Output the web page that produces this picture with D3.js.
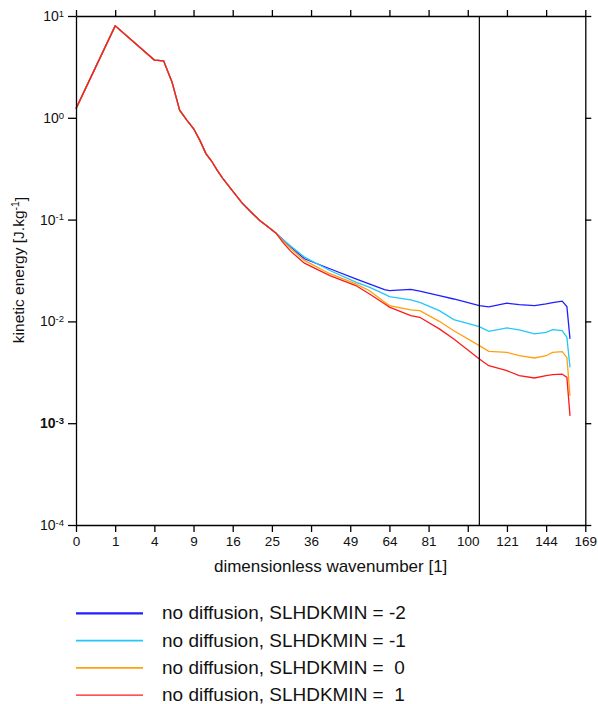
<!DOCTYPE html>
<html>
<head>
<meta charset="utf-8">
<script src="https://cdn.jsdelivr.net/npm/d3@7"></script>
<style>
  body { margin: 0; background: #fff; }
  svg text { font-family: "Liberation Sans", Arial, sans-serif; fill: #111; }
</style>
</head>
<body>
<div id="chart"></div>
<script>
// wavenumbers sampled along the curves
var wavenumbers = [0, 1, 4, 5, 6, 7, 8, 9, 10, 11, 12, 13, 14, 16, 18, 20, 22, 24, 26, 28, 30,
  34, 42, 51, 56, 62, 64, 73, 77, 86, 93, 106, 111, 121, 128, 137, 144, 148, 154, 157, 159];

// shared low-wavenumber part (k = 0 .. 26)
var common = [1.23, 8.0, 3.69, 3.63, 2.25, 1.19, 0.95, 0.785, 0.60, 0.445, 0.374, 0.305, 0.255,
  0.19, 0.145, 0.118, 0.098, 0.085, 0.074];

var energyM2 = common.concat([0.063, 0.054, 0.0412, 0.0329, 0.0262, 0.0234, 0.0205, 0.0201, 0.0206, 0.0198,
  0.0179, 0.0166, 0.01426, 0.0139, 0.0151, 0.0146, 0.0143, 0.0149, 0.0153, 0.0158, 0.0140, 0.00673]);
var energyM1 = common.concat([0.063, 0.055, 0.0428, 0.0316, 0.0243, 0.0217, 0.0185, 0.01755, 0.0163, 0.0154,
  0.01277, 0.0104, 0.0089, 0.0080, 0.00863, 0.00824, 0.00753, 0.0078, 0.0083, 0.0081, 0.00697, 0.00353]);
var energy0 = common.concat([0.061, 0.052, 0.0397, 0.0294, 0.0234, 0.0201, 0.0155, 0.0143, 0.0130, 0.01277,
  0.01002, 0.0081, 0.00578, 0.00508, 0.00497, 0.0046, 0.00437, 0.0046, 0.00497, 0.00504, 0.00443, 0.00186]);
var energyP1 = common.concat([0.059, 0.049, 0.0373, 0.0282, 0.0225, 0.0187, 0.0149, 0.0138, 0.0114, 0.01097,
  0.00844, 0.00673, 0.00428, 0.00367, 0.00328, 0.00293, 0.00278, 0.00293, 0.0030, 0.00304, 0.00282, 0.00118]);

var seriesNames = ["no diffusion, SLHDKMIN = -2", "no diffusion, SLHDKMIN = -1",
  "no diffusion, SLHDKMIN =  0", "no diffusion, SLHDKMIN =  1"];
var seriesValues = [energyM2, energyM1, energy0, energyP1];
var colors = ["#1f1fff", "#22c8f8", "#ffa010", "#ff1a1a"];
var legendWidths = [2.2, 1.6, 1.6, 1.2];

var xTicks = [0, 1, 4, 9, 16, 25, 36, 49, 64, 81, 100, 121, 144, 169];
var yTicks = [1e-4, 1e-3, 1e-2, 1e-1, 1, 10];
var truncation = 106;

var W = 598, H = 704;
var margin = {top: 16, right: 598 - 585.3, bottom: 704 - 525, left: 76};

var svg = d3.select("#chart").append("svg")
  .attr("width", W).attr("height", H);

var x = d3.scaleSqrt().domain([0, 169]).range([margin.left, W - margin.right]);
var y = d3.scaleLog().domain([1e-4, 10]).range([H - margin.bottom, margin.top]);

// lines
var line = d3.line()
  .x(function(d) { return x(d[0]); })
  .y(function(d) { return y(d[1]); });

seriesValues.forEach(function(vals, i) {
  svg.append("path")
    .datum(wavenumbers.map(function(k, j) { return [k, vals[j]]; }))
    .attr("d", line)
    .style("fill", "none")
    .style("stroke", colors[i])
    .style("stroke-width", 1.3);
});

// vertical truncation line
svg.append("line")
  .attr("x1", x(truncation)).attr("x2", x(truncation))
  .attr("y1", y(10)).attr("y2", y(1e-4))
  .style("stroke", "#000").style("stroke-width", 1.2);

// axes
function styleAxis(g) {
  g.selectAll("path, line").style("stroke", "#000").style("stroke-width", 1.3);
}

svg.append("g")
  .attr("transform", "translate(0," + (H - margin.bottom) + ")")
  .call(d3.axisBottom(x).tickValues(xTicks).tickSize(7).tickSizeOuter(0).tickPadding(4))
  .call(styleAxis)
  .selectAll("text").style("font-size", "13.5px");

svg.append("g")
  .attr("transform", "translate(0," + margin.top + ")")
  .call(d3.axisTop(x).tickValues(xTicks).tickSize(6).tickSizeOuter(0).tickFormat(""))
  .call(styleAxis);

svg.append("g")
  .attr("transform", "translate(" + (W - margin.right) + ",0)")
  .call(d3.axisRight(y).tickValues(yTicks).tickSize(6).tickSizeOuter(0).tickFormat(""))
  .call(styleAxis);

var yAxis = svg.append("g")
  .attr("transform", "translate(" + margin.left + ",0)")
  .call(d3.axisLeft(y).tickValues(yTicks).tickSize(8).tickSizeOuter(0).tickPadding(4).tickFormat(""))
  .call(styleAxis);

yAxis.selectAll(".tick text").each(function(d) {
  var t = d3.select(this).style("font-size", "14px");
  var e = Math.round(Math.log10(d));
  if (e === -3) t.style("font-weight", "bold");
  t.append("tspan").text("10");
  t.append("tspan").attr("dy", "-0.45em").style("font-size", "9.5px").text(e);
});

// axis titles
svg.append("text")
  .attr("x", (x(0) + x(169)) / 2).attr("y", 572)
  .attr("text-anchor", "middle")
  .style("font-size", "17px")
  .text("dimensionless wavenumber [1]");

var yt = svg.append("text")
  .attr("transform", "translate(24," + 270 + ") rotate(-90)")
  .attr("text-anchor", "middle")
  .style("font-size", "15.5px");
yt.append("tspan").text("kinetic energy [J.kg");
yt.append("tspan").attr("dy", "-0.45em").style("font-size", "10.5px").text("-1");
yt.append("tspan").attr("dy", "0.45em").text("]");

// legend
var legend = svg.append("g");
seriesNames.forEach(function(name, i) {
  var ly = 613.3 + i * 27.3;
  legend.append("line")
    .attr("x1", 76).attr("x2", 143).attr("y1", ly).attr("y2", ly)
    .style("stroke", colors[i]).style("stroke-width", legendWidths[i]);
  legend.append("text")
    .attr("transform", "translate(162," + (ly + 6) + ") scale(1.085,1)")
    .attr("xml:space", "preserve")
    .style("white-space", "pre")
    .style("font-size", "17.5px")
    .text(name);
});
</script>
</body>
</html>
